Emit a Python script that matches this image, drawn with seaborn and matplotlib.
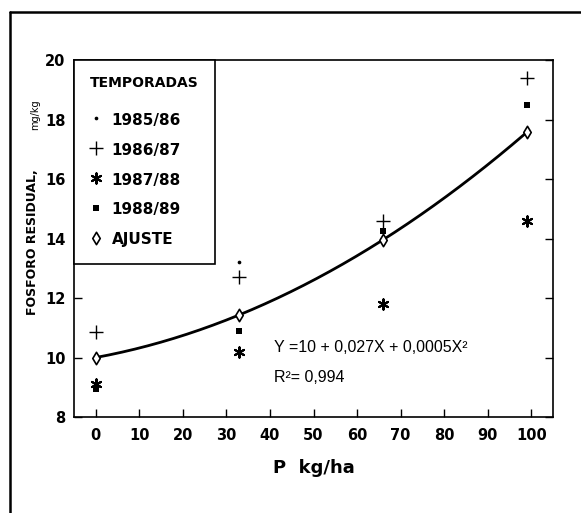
import numpy as np
import pandas as pd
import matplotlib
matplotlib.use("Agg")
import matplotlib.pyplot as plt
import seaborn as sns
from matplotlib.lines import Line2D

# Dosis de fósforo aplicada (kg/ha) y fósforo residual (mg/kg) por temporada
dosis = [0, 33, 66, 99]
temporadas = ["1985/86", "1986/87", "1987/88", "1988/89"]
t_1985_86 = [9.0, 13.2, 14.3, 17.5]
t_1986_87 = [10.85, 12.7, 14.6, 19.4]
t_1987_88 = [9.1, 10.2, 11.8, 14.6]
t_1988_89 = [8.95, 10.9, 14.25, 18.5]

# Ajuste cuadrático: Y = a + bX + cX^2
coef = [10, 0.027, 0.0005]
r2 = 0.994

x_ticks = list(range(0, 101, 10))
y_ticks = list(range(8, 21, 2))

sns.set_theme(style="ticks")
plt.rcParams["font.family"] = ["DejaVu Sans"]
plt.rcParams.update({
    "text.color": "black",
    "axes.labelcolor": "black",
    "xtick.color": "black",
    "ytick.color": "black",
    "axes.edgecolor": "black",
})

def ajuste(x):
    x = np.asarray(x, dtype=float)
    return coef[0] + coef[1] * x + coef[2] * x ** 2

def coma(v):
    return f"{v:g}".replace(".", ",")

series = [t_1985_86, t_1986_87, t_1987_88, t_1988_89]
df = pd.DataFrame({
    "P": dosis * len(series),
    "residual": sum(series, []),
    "temporada": sum([[t] * len(dosis) for t in temporadas], []),
})

x_curva = np.linspace(dosis[0], dosis[-1], 200)
curva = pd.DataFrame({"P": x_curva, "residual": ajuste(x_curva)})
puntos_ajuste = pd.DataFrame({"P": dosis, "residual": ajuste(dosis)})

fig = plt.figure(figsize=(5.81, 5.13), dpi=100)
ax = fig.add_axes([0.1274, 0.1871, 0.8244, 0.6959])

estilos = {
    "1985/86": dict(marker="o", s=7, linewidth=0),
    "1986/87": dict(marker="+", s=90, linewidth=1.0),
    "1987/88": dict(marker=(6, 2, 0), s=55, linewidth=1.5),
    "1988/89": dict(marker="s", s=22, linewidth=0),
}

sns.lineplot(data=curva, x="P", y="residual", ax=ax, color="black",
             linewidth=2.0, legend=False)

for t in temporadas:
    sub = df[df["temporada"] == t]
    sns.scatterplot(data=sub, x="P", y="residual", ax=ax, color="black",
                    label=t, zorder=3, **estilos[t])

sns.scatterplot(data=puntos_ajuste, x="P", y="residual", ax=ax,
                marker="d", s=40, facecolor="white", edgecolor="black",
                linewidth=1.2, label="AJUSTE", zorder=4)

ax.set_xlim(-5, 105)
ax.set_ylim(8, 20)
ax.set_xticks(x_ticks)
ax.set_yticks(y_ticks)
ax.tick_params(axis="both", direction="in", length=6, width=1.0,
               labelsize=10.5, color="black", labelcolor="black")
ax.tick_params(axis="x", pad=8)
ax.tick_params(axis="y", pad=6, right=True)
for lab in ax.get_xticklabels() + ax.get_yticklabels():
    lab.set_fontweight("bold")
for sp in ax.spines.values():
    sp.set_visible(True)
    sp.set_linewidth(1.2)
    sp.set_color("black")

ax.set_xlabel("P  kg/ha", fontsize=13, fontweight="bold", va="center")
ax.xaxis.set_label_coords(0.5, -0.143)
ax.set_ylabel("FOSFORO RESIDUAL,", fontsize=9, fontweight="bold", va="center")
ax.yaxis.set_label_coords(-0.086, 0.489)
ax.text(-0.081, 0.846, "mg/kg", rotation=90, fontsize=7,
        transform=ax.transAxes, ha="center", va="center")

fuente_ec = ["Liberation Sans", "DejaVu Sans"]
ax.text(41, 10.34,
        f"Y ={coma(coef[0])} + {coma(coef[1])}X + {coma(coef[2])}X\u00b2",
        fontsize=11.5, family=fuente_ec, va="center", ha="left")
ax.text(41, 9.33, f"R\u00b2= {coma(r2)}", fontsize=11.5, family=fuente_ec,
        va="center", ha="left")

leg = ax.legend(title="TEMPORADAS", loc="upper left", bbox_to_anchor=(0, 1),
                borderaxespad=0, frameon=True, fancybox=False,
                edgecolor="black", framealpha=1, fontsize=11,
                title_fontsize=10.0, labelspacing=0.8, handlelength=0.8,
                handleheight=1.4, handletextpad=0.6, borderpad=1.05,
                alignment="left")
leg.get_frame().set_linewidth(1.2)
leg.get_title().set_fontweight("bold")
for txt in leg.get_texts():
    txt.set_fontweight("bold")
# separación entre el título y la primera temporada (en puntos)
leg._legend_box.sep = 15

# Marco exterior (solo bordes superior e izquierdo)
x0, y0 = 10 / 581, 1 - 12 / 513
fig.add_artist(Line2D([x0, 1.0], [y0, y0], transform=fig.transFigure,
                      color="black", linewidth=1.8))
fig.add_artist(Line2D([x0, x0], [0.0, y0], transform=fig.transFigure,
                      color="black", linewidth=1.8))

fig.savefig("out.png", dpi=100)
